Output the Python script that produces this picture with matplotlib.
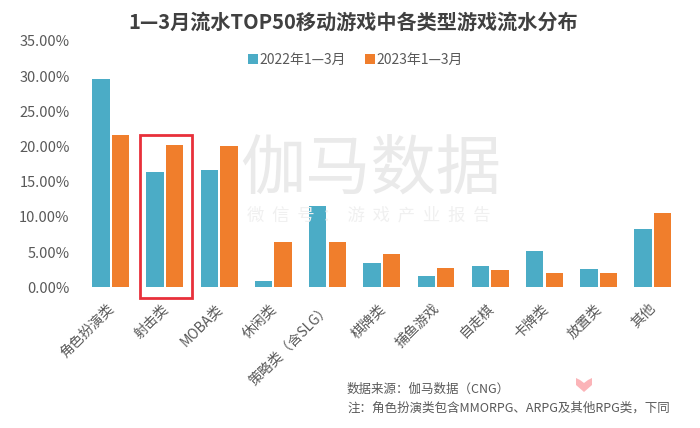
"""Share of revenue by game genre among the top 50 mobile games, Jan-Mar."""

import matplotlib

matplotlib.use("Agg")
import matplotlib.pyplot as plt
import numpy as np
from matplotlib.patches import Polygon, Rectangle
from matplotlib.transforms import ScaledTranslation

plt.rcParams["font.family"] = ["Noto Sans CJK SC", "DejaVu Sans"]

categories = [
    "角色扮演类", "射击类", "MOBA类", "休闲类", "策略类（含SLG）", "棋牌类",
    "捕鱼游戏", "自走棋", "卡牌类", "放置类", "其他",
]
share_2022 = [29.6, 16.4, 16.7, 0.9, 11.5, 3.5, 1.6, 3.0, 5.2, 2.6, 8.3]
share_2023 = [21.6, 20.2, 20.1, 6.4, 6.4, 4.7, 2.8, 2.4, 2.1, 2.0, 10.5]
y_ticks = [0, 5, 10, 15, 20, 25, 30, 35]

W, H = 700, 428
BLUE = "#4BACC6"
ORANGE = "#F07E2C"
TEXT = "#595959"


def px(x, y):
    """Image pixel position (origin top left) to figure fraction."""
    return x / W, 1 - y / H


fig = plt.figure(figsize=(W / 100, H / 100), dpi=100, facecolor="white")
ax = fig.add_axes([83.6 / W, 1 - 287.3 / H, (680 - 83.6) / W, (287.3 - 41) / H])

# Watermark goes first so the bars sit on top of it
fig.text(*px(371, 170), "伽马数据", fontsize=47, color="#EAEAEA", ha="center",
         va="center", fontweight="light", zorder=0)
fig.text(*px(369, 216), "微  信  号  ：  游  戏  产  业  报  告", fontsize=12.5,
         color="#F0F0F0", ha="center", va="center", zorder=0)
ax.patch.set_alpha(0)

x = np.arange(len(categories))
ax.bar(x - 0.18, share_2022, width=0.32, color=BLUE, label="2022年1—3月")
ax.bar(x + 0.18, share_2023, width=0.32, color=ORANGE, label="2023年1—3月")

ax.set_xlim(-0.5, len(categories) - 0.5)
ax.set_ylim(0, 35)
ax.set_yticks(y_ticks)
ax.set_yticklabels([f"{v:.2f}%" for v in y_ticks], fontsize=10.5, color=TEXT)
ax.set_xticks(x)
ax.set_xticklabels(categories, rotation=45, ha="right", rotation_mode="anchor",
                   fontsize=10, color=TEXT)
ax.tick_params(axis="both", length=0)
ax.tick_params(axis="y", pad=10)
ax.tick_params(axis="x", pad=10)
# Nudge the rotated labels a few pixels left of the tick position
shift = ScaledTranslation(-4 / 100, 0, fig.dpi_scale_trans)
for label in ax.get_xticklabels():
    label.set_transform(label.get_transform() + shift)
for spine in ax.spines.values():
    spine.set_visible(False)

ax.legend(loc="upper left", bbox_to_anchor=(248 / W, 1 - 53 / H),
          bbox_transform=fig.transFigure, ncol=2, frameon=False, fontsize=10,
          labelcolor=TEXT, handlelength=0.75, handleheight=0.75, handletextpad=0.05,
          columnspacing=1.4, borderpad=0, borderaxespad=0)

fig.text(*px(353, 22), "1—3月流水TOP50移动游戏中各类型游戏流水分布", fontsize=14.5,
         fontweight="bold", color="#404040", ha="center", va="center")

# Red highlight around the shooter group
fig.add_artist(Rectangle(px(139.5, 297.5), 52 / W, 163 / H, transform=fig.transFigure,
                         fill=False, edgecolor="#E8303A", linewidth=2))

fig.text(*px(347, 389), "数据来源：伽马数据（CNG）", fontsize=9, color=TEXT,
         ha="left", va="center")
fig.text(*px(347, 408), "注：角色扮演类包含MMORPG、ARPG及其他RPG类，下同", fontsize=9,
         color=TEXT, ha="left", va="center")

# Small pink logo at the bottom right
logo = [(576, 378), (580, 380), (584, 383), (588, 380), (592, 378), (592, 385),
        (584, 392), (576, 385)]
fig.add_artist(Polygon([px(*p) for p in logo], transform=fig.transFigure,
                       facecolor="#FBB4B8", edgecolor="none"))

fig.savefig("out.png", dpi=100)
